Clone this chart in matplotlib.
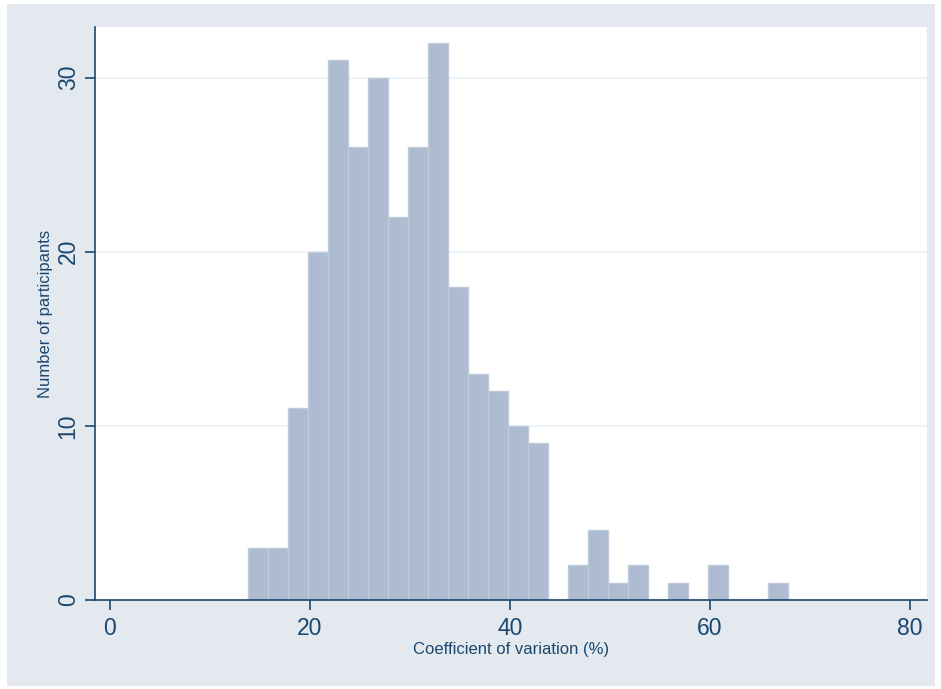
import numpy as np
import matplotlib.pyplot as plt
from matplotlib.patches import Rectangle

# histogram: bin edges start at 13.8, width 2
bin_start = 13.8
bin_width = 2.0
counts = [3, 3, 11, 20, 31, 26, 30, 22, 26, 32, 18, 13, 12, 10, 9,
          0, 2, 4, 1, 2, 0, 1, 0, 2, 0, 0, 1]

xticks = [0, 20, 40, 60, 80]
yticks = [0, 10, 20, 30]

navy = '#1a476f'
bar_fill = '#adbcd0'
bar_edge = '#bfcadb'
bg = '#e4e9f0'

plt.rcParams['font.family'] = ['Liberation Sans', 'DejaVu Sans']

fig = plt.figure(figsize=(9.41, 6.89), dpi=100, facecolor='white')
fig.patches.append(Rectangle((7 / 941, 3 / 689), 928 / 941, 682 / 689,
                             transform=fig.transFigure, facecolor=bg,
                             edgecolor='none', zorder=-5))

ax = fig.add_axes([95 / 941, 89 / 689, 832 / 941, 573 / 689])
ax.set_facecolor('white')

lefts = bin_start + bin_width * np.arange(len(counts))
ax.bar(lefts, counts, width=bin_width, align='edge', color=bar_fill,
       edgecolor=bar_edge, linewidth=1.0, zorder=2)

ax.set_xlim(-1.5, 81.7)
ax.set_ylim(0, 32.9)
ax.set_xticks(xticks)
ax.set_yticks(yticks)
ax.yaxis.grid(True, color='#eaf0f4', linewidth=1.2, zorder=0)
ax.set_axisbelow(True)

for s in ['top', 'right']:
    ax.spines[s].set_visible(False)
for s in ['left', 'bottom']:
    ax.spines[s].set_color(navy)
    ax.spines[s].set_linewidth(1.2)

ax.tick_params(axis='both', colors=navy, labelsize=16.5, length=7, width=1.2,
               direction='out')
ax.tick_params(axis='x', pad=5)
ax.tick_params(axis='y', pad=4)
for lab in ax.get_yticklabels():
    lab.set_rotation(90)
    lab.set_va('center')

ax.set_xlabel('Coefficient of variation (%)', color=navy, fontsize=12, labelpad=2)
ax.set_ylabel('Number of participants', color=navy, fontsize=12, labelpad=3)

fig.savefig('out.png', dpi=100, facecolor=fig.get_facecolor())
